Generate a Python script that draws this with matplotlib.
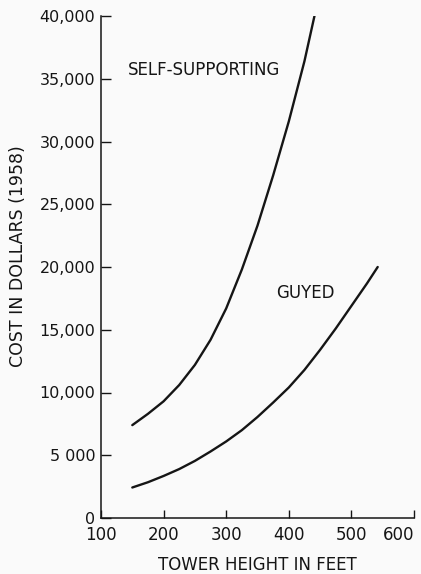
import matplotlib
matplotlib.use("Agg")
import matplotlib.pyplot as plt

# tower height (ft) vs cost (1958 dollars)
self_height = [150, 175, 200, 225, 250, 275, 300, 325, 350, 375, 400, 425, 441]
self_cost = [7400, 8300, 9300, 10600, 12200, 14200, 16700, 19800, 23300, 27300, 31600, 36400, 40000]

guyed_height = [150, 175, 200, 225, 250, 275, 300, 325, 350, 375, 400, 425, 450, 475, 500, 525, 542]
guyed_cost = [2430, 2850, 3350, 3900, 4550, 5300, 6100, 7000, 8050, 9200, 10400,
              11800, 13400, 15100, 16900, 18700, 20000]

x_ticks = [100, 200, 300, 400, 500, 600]
y_ticks = [0, 5000, 10000, 15000, 20000, 25000, 30000, 35000, 40000]
y_tick_labels = ["0", "5 000", "10,000", "15,000", "20,000", "25,000", "30,000", "35,000", "40,000"]

bg = "#fafafa"
ink = "#151515"

fig = plt.figure(figsize=(4.21, 5.74), dpi=100, facecolor=bg)
ax = fig.add_axes([101 / 421, 1 - 518 / 574, 313 / 421, 502 / 574], facecolor=bg)

ax.plot(self_height, self_cost, color=ink, lw=1.7, solid_capstyle="round", solid_joinstyle="round")
ax.plot(guyed_height, guyed_cost, color=ink, lw=1.7, solid_capstyle="round", solid_joinstyle="round")

ax.set_xlim(100, 600)
ax.set_ylim(0, 40000)
ax.set_xticks(x_ticks)
ax.set_yticks(y_ticks, y_tick_labels)

for side in ("top", "right"):
    ax.spines[side].set_visible(False)
for side in ("left", "bottom"):
    ax.spines[side].set_linewidth(1.1)
    ax.spines[side].set_color(ink)

ax.tick_params(axis="y", direction="in", length=7, width=1.0, pad=4,
               labelsize=11.5, colors=ink)
ax.tick_params(axis="x", direction="in", length=6, width=1.0, pad=6,
               labelsize=12, colors=ink)
# the last x label sits inside the frame in the original
ax.get_xticklabels()[-1].set_horizontalalignment("right")

ax.text(143, 35700, "SELF-SUPPORTING", fontsize=12, color=ink, ha="left", va="center")
ax.text(379, 17900, "GUYED", fontsize=12, color=ink, ha="left", va="center")

ax.set_ylabel("COST IN DOLLARS (1958)", fontsize=12.5, color=ink)
ax.yaxis.set_label_coords(-0.236, 0.522)
ax.set_xlabel("TOWER HEIGHT IN FEET", fontsize=12, color=ink)
ax.xaxis.set_label_coords(0.5, -0.075)

fig.savefig("out.png", dpi=100, facecolor=bg)
